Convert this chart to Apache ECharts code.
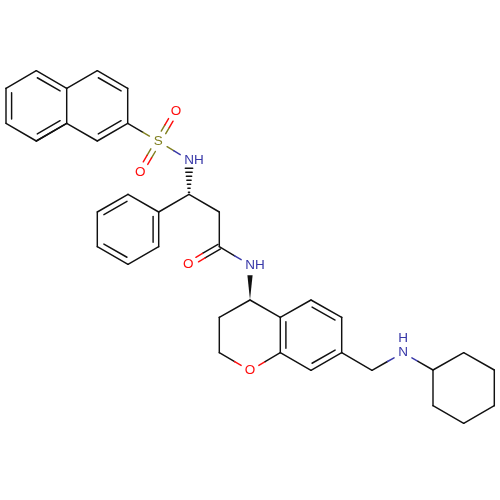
<!DOCTYPE html>
<html><head><meta charset="utf-8">
<style>html,body{margin:0;padding:0;background:#fff}#c{width:500px;height:500px}</style>
<script src="https://cdn.jsdelivr.net/npm/echarts@6/dist/echarts.min.js"></script></head>
<body><div id="c"></div>
<script>
// atoms: index, x, y, element
const atomX = [36.3,6,6,36.3,66.7,66.7,97.3,127.7,127.7,97.3, 158.3,176,140.3,189,189, 158.7,158.7,128,97.3,97.3,128, 219.3,219.3,188.3,250, 250,219.3,219.3,250,280.3,280.3,311,341.7,341.7,311, 372,403,433,433,463.7,494.3,494.3,463.7];
const atomY = [70.7,88.3,123.3,141,123.3,88.3,70.7,88.3,123.3,141, 141.3,111,172,160,194.3, 212,246.7,264.3,246.7,212,194.3, 212,246.7,264.7,265, 300,317.3,352.7,370.7,352.7,317.3,300,317.3,352.7,370.3, 370.3,352.7,370,405.7,423.3,405.7,370,352.7];
const atomEl = ['C','C','C','C','C','C','C','C','C','C','S','O','O','N','C','C','C','C','C','C','C','C','C','O','N','C','C','C','O','C','C','C','C','C','C','C','N','C','C','C','C','C','C'];
const singleBonds = [[0,1],[2,3],[4,5],[3,4],[5,6],[7,8],[9,4],[8,10],[10,13],[14,15],[16,17],[18,19],[20,15],[14,21],[21,22],[22,24],[25,26],[26,27],[27,28],[28,29],[29,34],[30,31],[32,33],[30,25],[33,35],[35,36],[36,37],[37,38],[38,39],[39,40],[40,41],[41,42],[42,37]];
const ringDoubles = [[0,5,0],[1,2,0],[3,4,0],[6,7,1],[8,9,1],[15,16,2],[17,18,2],[19,20,2],[29,30,3],[31,32,3],[33,34,3]];
const rings = [[0,1,2,3,4,5],[4,5,6,7,8,9],[15,16,17,18,19,20],[29,30,31,32,33,34]];
const pairDoubles = [[10,11],[10,12],[22,23]];
const solidWedges = [[25,24]];
const hashedWedges = [[14,13]];
const atomLabels = [['S',10],['O',11],['O',12],['NH',13],['O',23],['NH',24],['O',28],['N',36]];
const extraLabels = [['H',403,338.7,'N']];
const elementColors = {C:'#111111',N:'#3838a8',O:'#ff0d0d',S:'#808020'};

const TRIM=10.3, INNER=5.6, SHORT=4.4, PAIR=2.6, LW=1.45;
const P = i=>[atomX[i],atomY[i]];
const segments=[];
function addSeg(p,q,ea,eb,ta,tb){
  const dx=q[0]-p[0],dy=q[1]-p[1],L=Math.hypot(dx,dy),u=[dx/L,dy/L];
  const a=[p[0]+u[0]*ta,p[1]+u[1]*ta], b=[q[0]-u[0]*tb,q[1]-u[1]*tb];
  if(ea===eb){segments.push({value:[a[0],a[1],b[0],b[1]],color:elementColors[ea]});return;}
  const m=[(p[0]+q[0])/2,(p[1]+q[1])/2];
  segments.push({value:[a[0],a[1],m[0],m[1]],color:elementColors[ea]});
  segments.push({value:[m[0],m[1],b[0],b[1]],color:elementColors[eb]});
}
const trimOf=i=>atomEl[i]==='C'?0:TRIM;
singleBonds.forEach(([i,j])=>addSeg(P(i),P(j),atomEl[i],atomEl[j],trimOf(i),trimOf(j)));
ringDoubles.forEach(([i,j,r])=>{
  addSeg(P(i),P(j),atomEl[i],atomEl[j],0,0);
  const c=[0,1].map(k=>rings[r].reduce((s,a)=>s+P(a)[k],0)/6);
  const p=P(i),q=P(j),dx=q[0]-p[0],dy=q[1]-p[1],L=Math.hypot(dx,dy);
  let n=[-dy/L,dx/L];
  if((c[0]-p[0])*n[0]+(c[1]-p[1])*n[1]<0)n=[-n[0],-n[1]];
  addSeg([p[0]+n[0]*INNER,p[1]+n[1]*INNER],[q[0]+n[0]*INNER,q[1]+n[1]*INNER],'C','C',SHORT,SHORT);
});
pairDoubles.forEach(([i,j])=>{
  const p=P(i),q=P(j),dx=q[0]-p[0],dy=q[1]-p[1],L=Math.hypot(dx,dy),n=[-dy/L,dx/L];
  [-1,1].forEach(s=>addSeg([p[0]+s*n[0]*PAIR,p[1]+s*n[1]*PAIR],[q[0]+s*n[0]*PAIR,q[1]+s*n[1]*PAIR],atomEl[i],atomEl[j],trimOf(i),trimOf(j)));
});
hashedWedges.forEach(([i,j])=>{
  const p=P(i),q=P(j),dx=q[0]-p[0],dy=q[1]-p[1],L=Math.hypot(dx,dy),u=[dx/L,dy/L],n=[-u[1],u[0]];
  const end=L-TRIM+2,steps=7;
  for(let k=0;k<steps;k++){
    const d=2+(end-2)*k/(steps-1),w=0.6+3.1*k/(steps-1);
    const c=[p[0]+u[0]*d,p[1]+u[1]*d];
    segments.push({value:[c[0]-n[0]*w,c[1]-n[1]*w,c[0]+n[0]*w,c[1]+n[1]*w],color:elementColors.C});
  }
});
const wedges = solidWedges.map(([i,j])=>{
  const p=P(i),q=P(j),dx=q[0]-p[0],dy=q[1]-p[1],L=Math.hypot(dx,dy),u=[dx/L,dy/L],n=[-u[1],u[0]];
  const e=[q[0]-u[0]*TRIM,q[1]-u[1]*TRIM],w=2.6;
  return {value:[p[0],p[1],e[0]-n[0]*w,e[1]-n[1]*w,e[0]+n[0]*w,e[1]+n[1]*w]};
});
const labelElem = t=>t==='NH'?'N':t;
const labels = atomLabels.map(([t,i])=>({value:[atomX[i],atomY[i]],text:t,color:elementColors[labelElem(t)]}))
  .concat(extraLabels.map(([t,x,y,e])=>({value:[x,y],text:t,color:elementColors[e]})));

const chart=echarts.init(document.getElementById('c'),null,{renderer:'canvas'});
chart.setOption({
  animation:false,backgroundColor:'#fff',
  grid:{left:0,right:0,top:0,bottom:0},
  xAxis:{type:'value',min:0,max:500,show:false},
  yAxis:{type:'value',min:0,max:500,inverse:true,show:false},
  series:[
    {type:'custom',coordinateSystem:'cartesian2d',clip:false,silent:true,data:segments.map(s=>s.value),
     renderItem:(pa,api)=>{const a=api.coord([api.value(0),api.value(1)]),b=api.coord([api.value(2),api.value(3)]);
       return {type:'line',shape:{x1:a[0],y1:a[1],x2:b[0],y2:b[1]},style:{stroke:segments[pa.dataIndex].color,lineWidth:LW,lineCap:'round'}};}},
    {type:'custom',coordinateSystem:'cartesian2d',clip:false,silent:true,data:wedges.map(s=>s.value),
     renderItem:(pa,api)=>{const pts=[0,2,4].map(k=>api.coord([api.value(k),api.value(k+1)]));
       return {type:'polygon',shape:{points:pts},style:{fill:elementColors.C}};}},
    {type:'custom',coordinateSystem:'cartesian2d',clip:false,silent:true,data:labels.map(s=>s.value),
     renderItem:(pa,api)=>{const a=api.coord([api.value(0),api.value(1)]),l=labels[pa.dataIndex];
       const two=l.text==='NH';
       return {type:'text',x:a[0]-(two?4.7:0),y:a[1],style:{text:l.text,fill:l.color,font:'13.5px "Liberation Sans"',textAlign:two?'left':'center',textVerticalAlign:'middle'}};}}
  ]
});
</script></body></html>
